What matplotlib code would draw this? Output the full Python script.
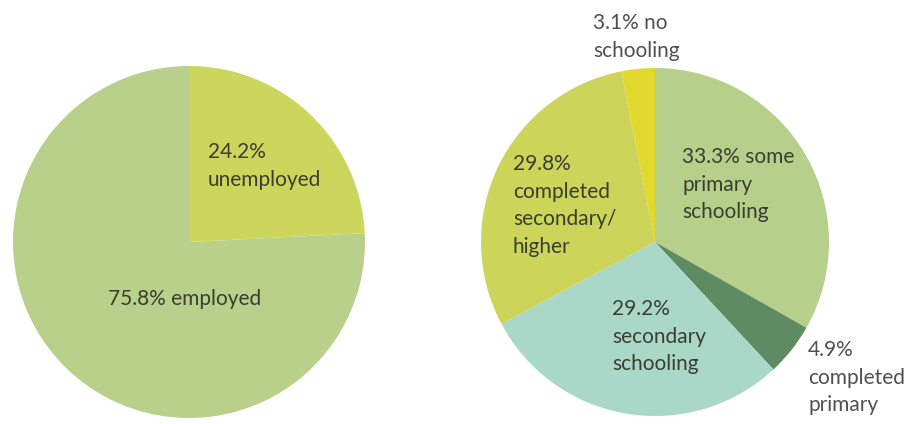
import matplotlib
matplotlib.use("Agg")
import matplotlib.pyplot as plt

W, H = 906, 424

# Data
emp_labels = ["24.2%\nunemployed", "75.8% employed"]
emp_values = [24.2, 75.8]
emp_colors = ["#cdd65c", "#b8d08a"]

edu_labels = ["33.3% some\nprimary\nschooling", "4.9%\ncompleted\nprimary",
              "29.2%\nsecondary\nschooling", "29.8%\ncompleted\nsecondary/\nhigher",
              "3.1% no\nschooling"]
edu_values = [33.3, 4.9, 29.2, 29.8, 3.1]
edu_colors = ["#b6cf8a", "#5f8b62", "#a9d8c8", "#ccd55a", "#e2d92e"]

fig = plt.figure(figsize=(W / 100, H / 100), dpi=100)
ax = fig.add_axes([0, 0, 1, 1])

def py(y):
    return H - y

ax.pie(emp_values, colors=emp_colors, startangle=90, counterclock=False,
       center=(189, py(242)), radius=176, wedgeprops=dict(linewidth=0))
ax.pie(edu_values, colors=edu_colors, startangle=90, counterclock=False,
       center=(655, py(242)), radius=174, wedgeprops=dict(linewidth=0))

ax.set_xlim(0, W)
ax.set_ylim(0, H)
ax.set_aspect("equal")
ax.axis("off")

font = dict(family=["Lato", "DejaVu Sans"], fontsize=15, linespacing=1.47)
inner = "#3a3e30"
outer = "#505050"

emp_pos = [(208, 142), (108, 289)]
for lab, (x, y) in zip(emp_labels, emp_pos):
    ax.text(x, py(y), lab, ha="left", va="top", color=inner, **font)

edu_pos = [(682, 147), (808, 340), (612, 299), (513, 154), (593, 13)]
edu_col = [inner, outer, inner, inner, outer]
for lab, (x, y), c in zip(edu_labels, edu_pos, edu_col):
    ax.text(x, py(y), lab, ha="left", va="top", color=c, **font)

fig.savefig("out.png", dpi=100)
